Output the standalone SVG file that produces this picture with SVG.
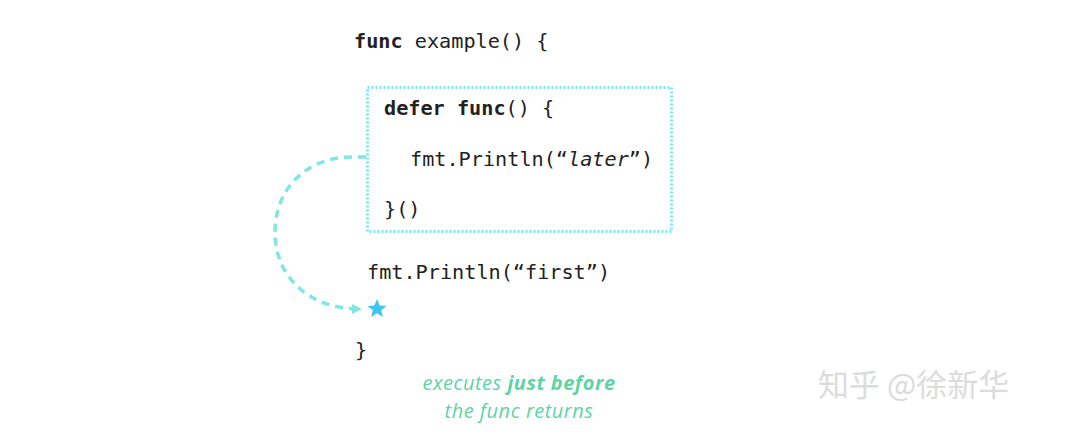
<svg xmlns="http://www.w3.org/2000/svg" width="1067" height="443" viewBox="0 0 1067 443">
<defs>
<style>
.code{font-family:"DejaVu Sans Mono","Liberation Mono",monospace;font-size:20.2px;fill:#222}
.b{font-weight:bold}
.note{font-family:"Open Sans","Noto Sans",sans-serif;font-size:20px;letter-spacing:0.5px;fill:#5ed4a6;font-style:italic}
.wm{font-family:"Noto Sans CJK SC",sans-serif;font-size:31px;fill:#dcdcdc}
</style>
<marker id="ah" markerWidth="10" markerHeight="10" refX="8" refY="5" orient="auto" markerUnits="userSpaceOnUse">
<path d="M0,0 L10,5 L0,10 Z" fill="#7ee8e0"/>
</marker>
</defs>
<rect width="1067" height="443" fill="#fff"/>
<g id="func">
<text class="code" x="354" y="48"><tspan class="b">func</tspan> example() {</text>
</g>
<g id="deferbox">
<rect x="367.5" y="87.5" width="304" height="144" fill="none" stroke="#7ee8e8" stroke-width="3" stroke-dasharray="2 2"/>
<text class="code" x="384" y="115"><tspan class="b">defer func</tspan>() {</text>
<text class="code" x="410" y="166">fmt.Println(“<tspan font-style="italic">later</tspan>”)</text>
<text class="code" x="384" y="216">}()</text>
</g>
<g id="first">
<text class="code" x="367" y="279">fmt.Println(“first”)</text>
</g>
<g id="star">
<polygon points="377,299 379.6,305.4 386.5,305.9 381.2,310.3 382.9,317 377,313.3 371.1,317 372.8,310.3 367.5,305.9 374.4,305.4" fill="#3cc6f0"/>
</g>
<g id="close">
<text class="code" x="355" y="357">}</text>
</g>
<g id="connectors">
<path d="M366,157 L352,157 C305,157 275,190 275,232 C275,278 310,309 360,309" fill="none" stroke="#7ee8e0" stroke-width="3.5" stroke-dasharray="8 6" marker-end="url(#ah)"/>
</g>
<g id="note">
<text class="note" x="519" y="390" text-anchor="middle">executes <tspan font-weight="bold">just before</tspan></text>
<text class="note" x="519" y="418" text-anchor="middle">the func returns</text>
</g>
<g id="watermark">
<text class="wm" x="818" y="396">知乎 @徐新华</text>
</g>
</svg>
